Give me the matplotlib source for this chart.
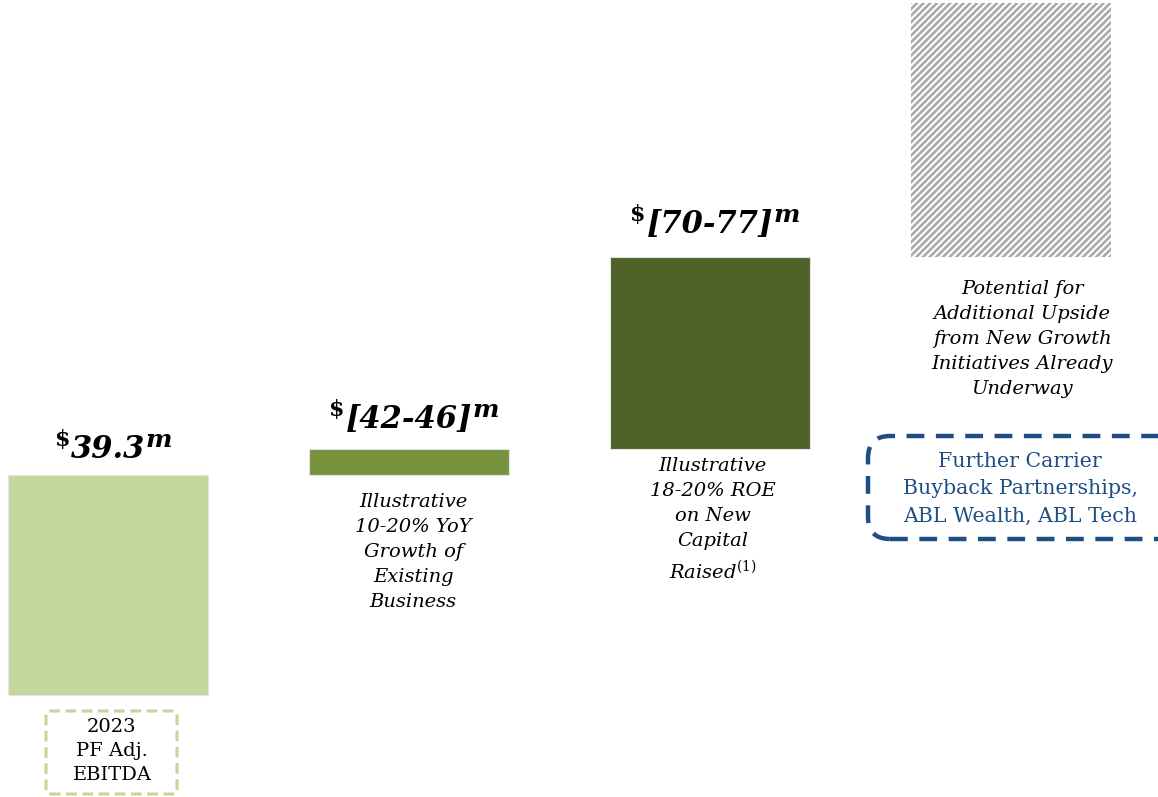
import matplotlib

matplotlib.use("Agg")

import matplotlib.pyplot as plt
import numpy as np
from matplotlib.patches import FancyBboxPatch
from matplotlib.transforms import IdentityTransform

# values (bar increments, $m)
steps = ["2023 PF Adj. EBITDA", "Growth", "ROE on new capital", "Upside"]
increments = [39.3, 4.7, 34.3, 45.4]
value_labels = ["39.3", "[42-46]", "[70-77]", None]
descriptions = [
    None,
    "Illustrative\n10-20% YoY\nGrowth of\nExisting\nBusiness",
    "Illustrative\n18-20% ROE\non New\nCapital\nRaised$^{\\mathit{(1)}}$",
    "Potential for\nAdditional Upside\nfrom New Growth\nInitiatives Already\nUnderway",
]
base_label = "2023\nPF Adj.\nEBITDA"
callout = "Further Carrier\nBuyback Partnerships,\nABL Wealth, ABL Tech"

colors = ["#C4D79B", "#77933C", "#4F6228", "white"]
navy = "#1F4E85"
W, H = 1158, 797

plt.rcParams["font.family"] = "DejaVu Serif"
plt.rcParams["mathtext.fontset"] = "dejavuserif"
plt.rcParams["hatch.linewidth"] = 1.9

tops = np.cumsum(increments)
bottoms = tops - np.array(increments)
x = np.arange(len(steps))

fig = plt.figure(figsize=(W / 100, H / 100), dpi=100)
ax = fig.add_axes([0, 0, 1, 1])
ax.set_xlim(-108 / 301, (W - 108) / 301)
px_per_unit = 220 / 39.3
ax.set_ylim(-(H - 695) / px_per_unit, 695 / px_per_unit)
ax.axis("off")

bars = ax.bar(x, increments, bottom=bottoms, width=200 / 301, color=colors,
              edgecolor="#E4E4E4", linewidth=0.8)
bars[3].set_edgecolor("#A9A9A9")
bars[3].set_hatch("/////")
bars[3].set_linewidth(0)

# value labels with superscript $ and m
label_pad = [7, 10, 12, 0]
for xi, top, lab, pad in zip(x, tops, value_labels, label_pad):
    if lab is None:
        continue
    main = ax.annotate(lab, xy=(xi, top), xytext=(0, pad), textcoords="offset points",
                       ha="center", va="bottom", fontsize=22, fontweight="bold",
                       fontstyle="italic")
    ax.annotate("$", xy=(-0.01, 0.62), xycoords=main, ha="right", va="baseline",
                fontsize=16, fontweight="bold")
    ax.annotate("m", xy=(1.0, 0.58), xycoords=main, ha="left", va="baseline",
                fontsize=18, fontweight="bold", fontstyle="italic")

# descriptions under floating bars
offsets = [0, 13, 6, 17]
dx = [0, 3, 2, 8]
for xi, bot, desc, off, d in zip(x, bottoms, descriptions, offsets, dx):
    if desc is None:
        continue
    ax.annotate(desc, xy=(xi, bot), xytext=(d, -off), textcoords="offset points",
                ha="center", va="top", fontsize=14, fontstyle="italic",
                linespacing=1.5)

# dashed box under first bar
pix = IdentityTransform()
fig.patches.append(FancyBboxPatch((46, H - 794), 131, 83, transform=pix,
                                  boxstyle="round,pad=0,rounding_size=4",
                                  fill=False, edgecolor="#C4D79B", linewidth=2.2,
                                  linestyle=(0, (3.5, 1.8)), figure=fig))
fig.text(112 / W, 1 - 751 / H, base_label, ha="center", va="center",
         fontsize=14, linespacing=1.45)

# callout box on the right
fig.patches.append(FancyBboxPatch((868, H - 539), 320, 103, transform=pix,
                                  boxstyle="round,pad=0,rounding_size=22",
                                  fill=False, edgecolor=navy, linewidth=3.2,
                                  linestyle=(0, (4, 2.6)), figure=fig))
fig.text(1020 / W, 1 - 489 / H, callout, ha="center", va="center",
         fontsize=14.8, color=navy, linespacing=1.56)

fig.savefig("out.png", dpi=100)
